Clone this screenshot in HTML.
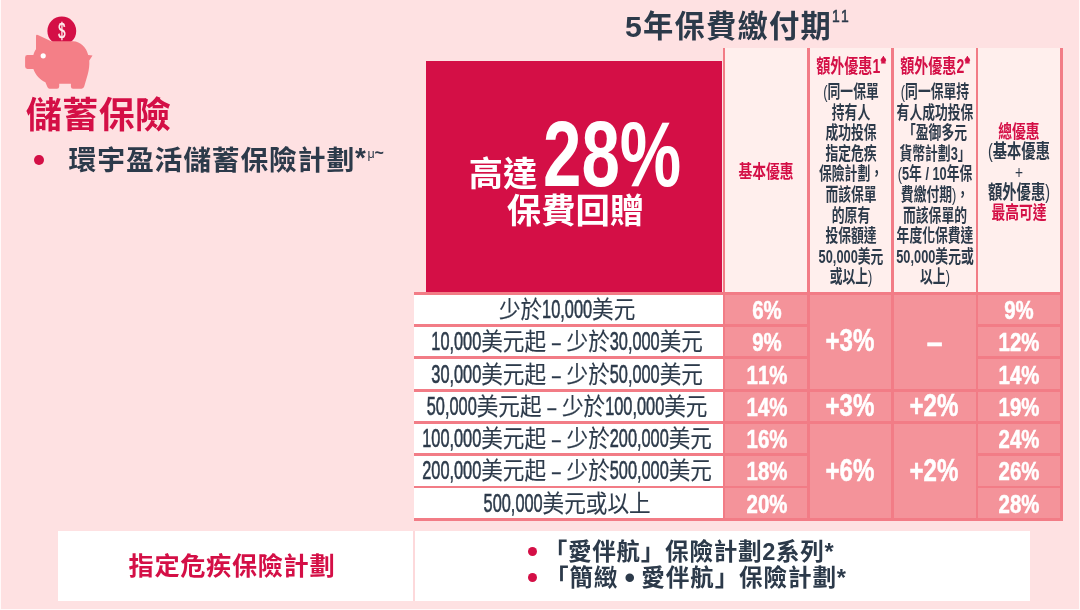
<!DOCTYPE html>
<html lang="zh-Hant">
<head>
<meta charset="utf-8">
<title>儲蓄保險 – 5年保費繳付期</title>
<style>
html,body{margin:0;padding:0}
body{width:1080px;height:610px;position:relative;overflow:hidden;background:#fffafa;
 font-family:"Liberation Sans","Noto Sans CJK TC",sans-serif;color:#2c3a4a;}
.bg{position:absolute;left:1px;top:0;width:1078px;height:609px;background:#fee1e2}
.a{position:absolute}
.t{position:absolute;white-space:nowrap;line-height:1;margin:0;padding:0}
.b{font-weight:700}
.cr{color:#d40f46}
.w{color:#fff}
/* condensed digits: small font stretched vertically around the baseline */
.d{display:inline-block;line-height:normal;transform-origin:0 78.8%;}
.hd{position:absolute;text-align:center;font-weight:700;white-space:nowrap;transform-origin:50% 0;}
.row{position:absolute;left:414.4px;width:308.2px;height:29.4px;background:#fff;}
.lab{position:absolute;left:-21.4px;right:-18.6px;top:1.3px;height:29.4px;line-height:29.4px;text-align:center;white-space:nowrap;font-size:23.4px;font-weight:400;transform:scaleX(.923);transform-origin:50% 50%;-webkit-text-stroke:.15px #2c3a4a}
.lab .d{font-size:17.7px;transform:scaleY(1.41);-webkit-text-stroke:.42px #2c3a4a}
.lab .e{display:inline-block;transform:scaleX(.72);-webkit-text-stroke:.4px #2c3a4a}
.ds{word-spacing:-1.9px}
.p{font-weight:400}
.c{position:absolute;background:#f4939a;}
.v{position:absolute;left:50%;top:50%;color:#fff;font-weight:700;font-kerning:none;white-space:nowrap;line-height:1;transform:translate(-50%,-50%) scaleX(.8);-webkit-text-stroke:.55px #fff;margin-top:1.6px;margin-left:1.2px}
.v.g{transform:translate(-50%,-50%) scaleX(.765);margin-top:-.3px;margin-left:-.6px}
</style>
</head>
<body>
<div class="bg"></div>
<svg class="a" style="left:0;top:0" width="110" height="100" viewBox="0 0 110 100" role="img" aria-label="儲蓄保險">
<circle cx="61.8" cy="30.9" r="14.4" fill="#d40f46"/>
<text x="61.9" y="38.3" font-family="Liberation Sans, sans-serif" font-size="21.5" font-weight="400" fill="#fff1f1" stroke="#fff1f1" stroke-width=".45" text-anchor="middle" transform="translate(62 0) scale(.6 1) translate(-62 0)">$</text>
<path fill="#f47f87" d="M36 36.2 Q36 34.1 37.9 35 L51.2 41.2 L73 41.2 C80.5 41.4 86.6 47.5 88.2 55.1 L92.5 55.5 L89.3 60.6 C89.6 65 89 70 87.7 74.5 L84.2 86.6 Q83.6 88.7 81.6 88.7 L73 88.7 Q70.9 88.7 70.9 86.5 L70.9 83.8 L59.2 83.8 L59.2 86.5 Q59.2 88.7 57 88.7 L49.6 88.7 Q48 88.7 47.4 87 L45.4 82.2 C40 79.5 35.5 75 33.4 68.9 L27.5 68.9 Q25.1 68.9 25.1 66.5 L25.1 57.4 Q25.1 55 27.5 55 L33.4 55 C33.8 52.8 34.8 50.8 36 49.2 Z"/>
<circle cx="43.2" cy="55.8" r="2.6" fill="#fff"/>
</svg>
<h1 class="t b cr" style="left:25.8px;top:97.4px;font-size:36.1px;line-height:38px;letter-spacing:.35px">儲蓄保險</h1>
<div class="a" style="left:33.8px;top:154.9px;width:9.8px;height:9.8px;border-radius:50%;background:#d40f46"></div>
<div class="t b" style="left:68.6px;top:145.8px;font-size:27.8px;line-height:30px;letter-spacing:.85px">環宇盈活儲蓄保險計劃<span style="letter-spacing:0;position:relative;top:-3px">*</span><span style="font-size:12.5px;font-weight:400;position:relative;top:-11.5px;letter-spacing:0;margin-left:1.5px">μ</span><span style="font-size:16px;font-weight:700;position:relative;top:-12px;letter-spacing:0">~</span></div>
<h2 class="t b" style="left:625px;top:9.6px;font-size:30.3px;line-height:34px;letter-spacing:1.2px">5年保費繳付期<span style="display:inline-block;font-size:16.4px;line-height:1;font-weight:400;-webkit-text-stroke:.55px #2c3a4a;position:relative;top:-14.4px;letter-spacing:1.6px;margin-left:-.5px;font-kerning:none;transform:scaleX(.85);transform-origin:0 50%">11</span></h2>
<div class="a" style="left:722.8px;top:48px;width:340px;height:246px;background:#f27c86"></div>
<div class="a" style="left:725.45px;top:48px;width:81.50px;height:243.8px;background:#ffefed"></div>
<div class="a" style="left:809.85px;top:48px;width:81.30px;height:243.8px;background:#ffefed"></div>
<div class="a" style="left:894.05px;top:48px;width:81.50px;height:243.8px;background:#ffefed"></div>
<div class="a" style="left:978.45px;top:48px;width:81.50px;height:243.8px;background:#ffefed"></div>
<div class="a" style="left:426px;top:60.6px;width:296.2px;height:231px;background:#d40f46"></div>
<div class="t b w" style="left:468.8px;top:155.8px;font-size:34.2px;line-height:36px">高達</div>
<div class="t b w" style="left:542.5px;top:104px;font-size:92.3px;line-height:100px;transform:scaleX(.748);transform-origin:0 0">28%</div>
<div class="t b w" style="left:506.8px;top:193.2px;font-size:34.4px;line-height:36px">保費回贈</div>
<div class="hd" style="left:666.20px;width:200px;top:161px;font-size:18.6px;line-height:21px;transform:scaleX(0.74);"><span class="cr">基本優惠</span></div>
<div class="hd" style="left:750.50px;width:200px;top:54.5px;font-size:19.5px;line-height:22px;transform:scaleX(0.72);"><span class="cr">額外優惠1<span style="display:inline-block;font-size:11.5px;line-height:1;position:relative;top:-9.8px;margin-left:1.6px;margin-right:0;font-weight:400;-webkit-text-stroke:.9px #d40f46;transform:scaleX(1.2)">♠</span></span></div>
<div class="hd" style="left:750.50px;width:200px;top:82px;font-size:17.8px;line-height:20.6px;transform:scaleX(0.72);"><span class="p">(</span>同一保單<br>持有人<br>成功投保<br>指定危疾<br>保險計劃，<br>而該保單<br>的原有<br>投保額達<br>50,000美元<br>或以上<span class="p">)</span></div>
<div class="hd" style="left:834.80px;width:200px;top:54.5px;font-size:19.5px;line-height:22px;transform:scaleX(0.72);"><span class="cr">額外優惠2<span style="display:inline-block;font-size:11.5px;line-height:1;position:relative;top:-9.8px;margin-left:1.6px;margin-right:0;font-weight:400;-webkit-text-stroke:.9px #d40f46;transform:scaleX(1.2)">♠</span></span></div>
<div class="hd" style="left:834.80px;width:200px;top:82px;font-size:17.8px;line-height:20.6px;transform:scaleX(0.72);"><span class="p">(</span>同一保單持<br>有人成功投保<br>「盈御多元<br>貨幣計劃3」<br><span class="p">(</span>5年 / 10年保<br>費繳付期<span class="p">)</span>，<br>而該保單的<br>年度化保費達<br>50,000美元或<br>以上<span class="p">)</span></div>
<div class="hd" style="left:919.20px;width:200px;top:122px;font-size:18.6px;line-height:20.25px;transform:scaleX(0.74);"><span class="cr">總優惠</span><br><span style="font-size:19.3px"><span class="p">(</span>基本優惠</span><br><span style="font-weight:400">+</span><br><span style="font-size:19.3px">額外優惠<span class="p">)</span></span><br><span class="cr">最高可達</span></div>
<div class="a" style="left:414.4px;top:291.95px;width:648.3px;height:228.72px;background:#f27c86"></div>
<div class="row" style="top:294.85px;height:29.36px"><div class="lab" style="height:29.36px;line-height:29.36px">少於<span class="d">10,000</span>美元</div></div>
<div class="row" style="top:327.11px;height:29.36px"><div class="lab" style="height:29.36px;line-height:29.36px"><span class="d">10,000</span>美元起<span class="ds"> <span class="e">–</span> </span>少於<span class="d">30,000</span>美元</div></div>
<div class="row" style="top:359.37px;height:29.36px"><div class="lab" style="height:29.36px;line-height:29.36px"><span class="d">30,000</span>美元起<span class="ds"> <span class="e">–</span> </span>少於<span class="d">50,000</span>美元</div></div>
<div class="row" style="top:391.63px;height:29.36px"><div class="lab" style="height:29.36px;line-height:29.36px"><span class="d">50,000</span>美元起<span class="ds"> <span class="e">–</span> </span>少於<span class="d">100,000</span>美元</div></div>
<div class="row" style="top:423.89px;height:29.36px"><div class="lab" style="height:29.36px;line-height:29.36px"><span class="d">100,000</span>美元起<span class="ds"> <span class="e">–</span> </span>少於<span class="d">200,000</span>美元</div></div>
<div class="row" style="top:456.15px;height:29.36px"><div class="lab" style="height:29.36px;line-height:29.36px"><span class="d">200,000</span>美元起<span class="ds"> <span class="e">–</span> </span>少於<span class="d">500,000</span>美元</div></div>
<div class="row" style="top:488.41px;height:29.36px"><div class="lab" style="height:29.36px;line-height:29.36px"><span class="d">500,000</span>美元或以上</div></div>
<div class="c" style="left:725.45px;top:294.85px;width:81.50px;height:29.36px"><span class="v" style="font-size:25.5px">6%</span></div>
<div class="c" style="left:978.45px;top:294.85px;width:81.50px;height:29.36px"><span class="v" style="font-size:25.5px;margin-left:-0.3px">9%</span></div>
<div class="c" style="left:725.45px;top:327.11px;width:81.50px;height:29.36px"><span class="v" style="font-size:25.5px">9%</span></div>
<div class="c" style="left:978.45px;top:327.11px;width:81.50px;height:29.36px"><span class="v" style="font-size:25.5px;margin-left:-0.3px">12%</span></div>
<div class="c" style="left:725.45px;top:359.37px;width:81.50px;height:29.36px"><span class="v" style="font-size:25.5px">11%</span></div>
<div class="c" style="left:978.45px;top:359.37px;width:81.50px;height:29.36px"><span class="v" style="font-size:25.5px;margin-left:-0.3px">14%</span></div>
<div class="c" style="left:725.45px;top:391.63px;width:81.50px;height:29.36px"><span class="v" style="font-size:25.5px">14%</span></div>
<div class="c" style="left:978.45px;top:391.63px;width:81.50px;height:29.36px"><span class="v" style="font-size:25.5px;margin-left:-0.3px">19%</span></div>
<div class="c" style="left:725.45px;top:423.89px;width:81.50px;height:29.36px"><span class="v" style="font-size:25.5px">16%</span></div>
<div class="c" style="left:978.45px;top:423.89px;width:81.50px;height:29.36px"><span class="v" style="font-size:25.5px;margin-left:-0.3px">24%</span></div>
<div class="c" style="left:725.45px;top:456.15px;width:81.50px;height:29.36px"><span class="v" style="font-size:25.5px">18%</span></div>
<div class="c" style="left:978.45px;top:456.15px;width:81.50px;height:29.36px"><span class="v" style="font-size:25.5px;margin-left:-0.3px">26%</span></div>
<div class="c" style="left:725.45px;top:488.41px;width:81.50px;height:29.36px"><span class="v" style="font-size:25.5px">20%</span></div>
<div class="c" style="left:978.45px;top:488.41px;width:81.50px;height:29.36px"><span class="v" style="font-size:25.5px;margin-left:-0.3px">28%</span></div>
<div class="c" style="left:809.85px;top:294.85px;width:81.30px;height:93.88px"><span class="v g" style="font-size:31.5px">+3%</span></div>
<div class="c" style="left:809.85px;top:391.63px;width:81.30px;height:29.36px"><span class="v g" style="font-size:31.5px">+3%</span></div>
<div class="c" style="left:809.85px;top:423.89px;width:81.30px;height:93.88px"><span class="v g" style="font-size:31.5px">+6%</span></div>
<div class="c" style="left:894.05px;top:294.85px;width:81.50px;height:93.88px"><span class="v g" style="font-size:31.5px"><span style="display:inline-block;transform:scaleX(1.18);position:relative;top:1.6px;left:1px">–</span></span></div>
<div class="c" style="left:894.05px;top:391.63px;width:81.50px;height:29.36px"><span class="v g" style="font-size:31.5px">+2%</span></div>
<div class="c" style="left:894.05px;top:423.89px;width:81.50px;height:93.88px"><span class="v g" style="font-size:31.5px">+2%</span></div>
<div class="a" style="left:58px;top:531.3px;width:971.8px;height:70px;background:#fff"></div>
<div class="a" style="left:413px;top:531.3px;width:1.6px;height:70px;background:#fdd9db"></div>
<div class="t b cr" style="left:128.6px;top:552px;font-size:25.2px;line-height:28px;letter-spacing:.65px">指定危疾保險計劃</div>
<div class="a" style="left:527.5px;top:546.8px;width:9px;height:9px;border-radius:50%;background:#d40f46"></div>
<div class="a" style="left:527.5px;top:573px;width:9px;height:9px;border-radius:50%;background:#d40f46"></div>
<div class="t b" style="left:543.8px;top:539.2px;font-size:23.6px;line-height:26px;letter-spacing:.67px">「愛伴航」保險計劃2系列*</div>
<div class="t b" style="left:545px;top:564.8px;font-size:23.6px;line-height:26px;letter-spacing:.85px">「簡緻<span style="word-spacing:-1.2px"> <span style="font-size:30px;line-height:0;position:relative;top:2px;letter-spacing:0">•</span> </span>愛伴航」保險計劃*</div>
</body>
</html>
